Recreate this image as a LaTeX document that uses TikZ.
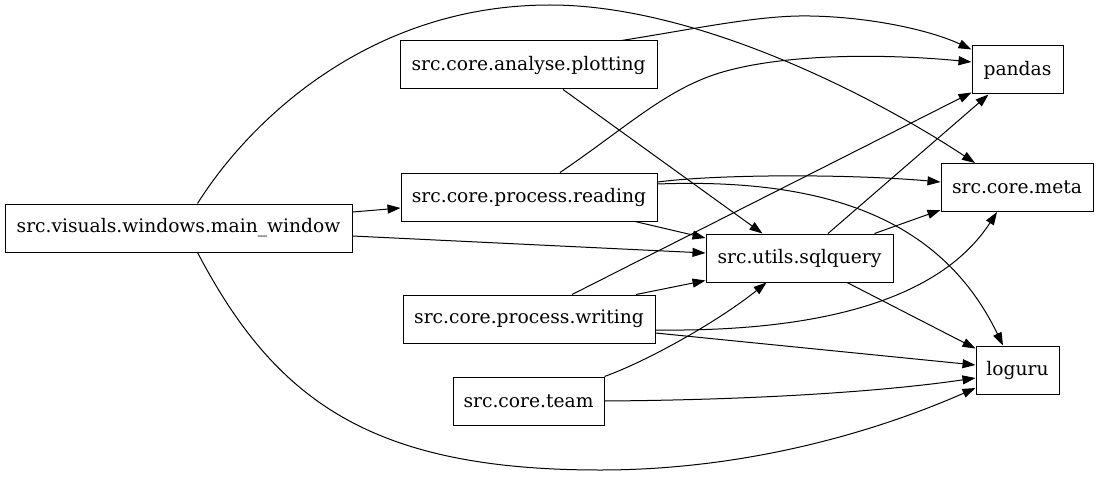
\documentclass[tikz,border=0pt]{standalone}
\usepackage{fontspec}
\setmainfont{DejaVu Serif}
\usetikzlibrary{arrows.meta}
\begin{document}
\begin{tikzpicture}[x=1pt,y=-1pt,
  box/.style={draw, line width=1pt, minimum height=48pt, inner sep=0pt, font=\fontsize{18.67}{22}\selectfont},
  edge/.style={line width=1pt, -{Triangle[length=13pt,width=9pt]}}]
\useasboundingbox (0,0) rectangle (1099,476);
\node[box, minimum width=347pt] (mw) at (178.5,228) {src.visuals.windows.main\_window};
\node[box, minimum width=257pt] (plot) at (528.5,65) {src.core.analyse.plotting};
\node[box, minimum width=256pt] (read) at (529,197) {src.core.process.reading};
\node[box, minimum width=252pt] (write) at (529,319) {src.core.process.writing};
\node[box, minimum width=151pt] (team) at (528.5,401) {src.core.team};
\node[box, minimum width=187pt] (sql) at (799.5,258) {src.utils.sqlquery};
\node[box, minimum width=91pt] (pandas) at (1017.5,70) {pandas};
\node[box, minimum width=152pt] (meta) at (1017,187.5) {src.core.meta};
\node[box, minimum width=83pt] (loguru) at (1017.5,370) {loguru};
% main_window
\draw[edge] ([yshift=16pt]mw.east) -- ([yshift=-11pt]read.west);
\draw[edge] ([yshift=-8pt]mw.east) -- ([yshift=5pt]sql.west);
\draw[edge] ([xshift=19pt]mw.north) .. controls (250,120) and (370,5) .. (550,5) .. controls (700,5) and (880,100) .. ([xshift=-42pt]meta.north);
\draw[edge] ([xshift=19pt]mw.south) .. controls (275,400) and (370,470) .. (600,470) .. controls (750,470) and (880,430) .. ([yshift=-18pt]loguru.west);
% plotting
\draw[edge] ([xshift=93pt]plot.north) .. controls (700,28) and (760,15) .. (810,16) .. controls (870,17) and (930,30) .. ([yshift=-4pt]pandas.north west);
\draw[edge] ([xshift=34.5pt]plot.south) -- ([xshift=-37pt]sql.north);
% reading
\draw[edge] ([xshift=31pt]read.north) .. controls (630,125) and (670,85) .. (730,70) .. controls (800,52) and (900,55) .. ([yshift=8pt]pandas.west);
\draw[edge] ([yshift=15pt]read.east) .. controls (720,174) and (850,174) .. ([yshift=5.5pt]meta.west);
\draw[edge] ([yshift=13pt]read.east) .. controls (820,178) and (940,215) .. ([xshift=-14.5pt]loguru.north);
\draw[edge] ([xshift=106pt]read.south) -- ([yshift=20pt]sql.west);
% writing
\draw[edge] ([xshift=43pt]write.north) -- ([yshift=2pt]pandas.south west);
\draw[edge] ([xshift=107pt]write.north) -- ([yshift=2pt]sql.south west);
\draw[edge] ([yshift=-11pt]write.east) .. controls (820,332) and (940,300) .. ([xshift=-20pt]meta.south);
\draw[edge] ([yshift=-14pt]write.east) -- ([yshift=5pt]loguru.west);
% team
\draw[edge] (team.north east) .. controls (650,360) and (720,320) .. ([xshift=-33pt]sql.south);
\draw[edge] (team.east) .. controls (750,400) and (880,392) .. ([yshift=-8pt]loguru.west);
% sqlquery
\draw[edge] ([xshift=28.5pt]sql.north) -- ([xshift=-29pt]pandas.south);
\draw[edge] ([xshift=75pt]sql.north) -- ([yshift=2pt]meta.south west);
\draw[edge] ([xshift=47.5pt]sql.south) -- ([yshift=-3pt]loguru.north west);
\end{tikzpicture}
\end{document}
